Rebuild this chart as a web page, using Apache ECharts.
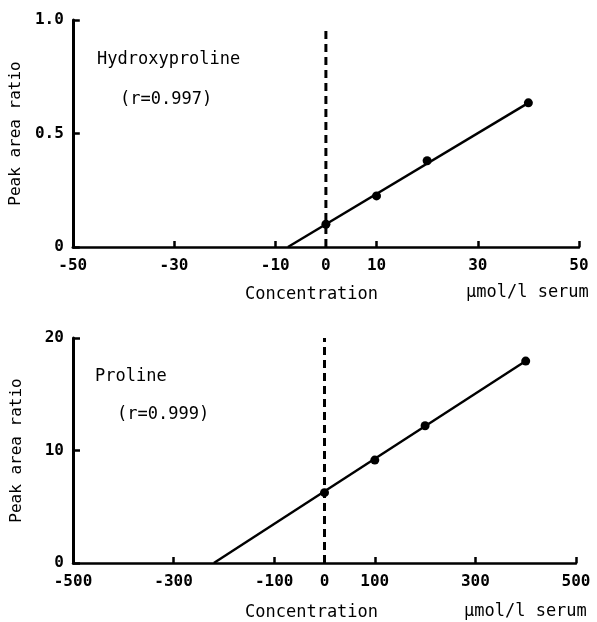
<!DOCTYPE html>
<html>
<head>
<meta charset="utf-8">
<script src="https://cdn.jsdelivr.net/npm/echarts@6/dist/echarts.min.js"></script>
<style>html,body{margin:0;padding:0;background:#fff;}#c{width:597px;height:622px;}</style>
</head>
<body>
<div id="c"></div>
<script>
// Top panel: Hydroxyproline
var hypX = [0, 10, 20, 40];
var hypY = [0.10, 0.225, 0.38, 0.635];
var hypFitX = [-7.5, 40];
var hypFitY = [0, 0.635];
var hypXLabels = [-50, -30, -10, 0, 10, 30, 50];
var hypXTicks = [-30, -10, 10, 30, 50];
var hypYTicks = [0, 0.5, 1.0];
var hypDashTop = 0.965;

// Bottom panel: Proline
var proX = [0, 100, 200, 400];
var proY = [6.25, 9.15, 12.2, 17.95];
var proFitX = [-220, 400];
var proFitY = [0, 17.95];
var proXLabels = [-500, -300, -100, 0, 100, 300, 500];
var proXTicks = [-300, -100, 100, 300, 500];
var proYTicks = [0, 10, 20];
var proDashTop = 20;

var FONT = '"DejaVu Sans Mono", "Liberation Mono", monospace';

function zip(a, b) { return a.map(function (v, i) { return [v, b[i]]; }); }

function xAxisCfg(idx, min, max, labels, ticks) {
  return {
    type: 'value', gridIndex: idx, min: min, max: max,
    splitLine: { show: false },
    axisLine: { show: true, onZero: false, lineStyle: { color: '#000', width: 2.5 } },
    axisTick: { show: true, inside: true, length: 6, customValues: ticks, lineStyle: { color: '#000', width: 2.5 } },
    axisLabel: { customValues: labels, color: '#000', fontFamily: FONT, fontSize: 16, fontWeight: 'bold', margin: 11,
      formatter: function (v) { return String(v); } }
  };
}
function yAxisCfg(idx, min, max, ticks, fmt) {
  return {
    type: 'value', gridIndex: idx, min: min, max: max,
    name: 'Peak area ratio', nameLocation: 'middle', nameRotate: 90, nameGap: 48,
    nameTextStyle: { color: '#000', fontFamily: FONT, fontSize: 16 },
    splitLine: { show: false },
    axisLine: { show: true, onZero: false, lineStyle: { color: '#000', width: 3 } },
    axisTick: { show: true, inside: true, length: 7, customValues: ticks, lineStyle: { color: '#000', width: 2.5 } },
    axisLabel: { customValues: ticks, color: '#000', fontFamily: FONT, fontSize: 16, fontWeight: 'bold', margin: 9, formatter: fmt }
  };
}

var chart = echarts.init(document.getElementById('c'), null, { renderer: 'canvas' });
var txt = function (l, t, s) {
  return { type: 'text', left: l, top: t, style: { text: s, fill: '#000', font: '17px ' + FONT } };
};
chart.setOption({
  animation: false,
  backgroundColor: '#fff',
  grid: [
    { left: 72, right: 18, top: 20, height: 227 },
    { left: 73, right: 21, top: 338, height: 225 }
  ],
  xAxis: [
    xAxisCfg(0, -50, 50, hypXLabels, hypXTicks),
    xAxisCfg(1, -500, 500, proXLabels, proXTicks)
  ],
  yAxis: [
    yAxisCfg(0, 0, 1, hypYTicks, function (v) { return v === 0 ? '0' : v.toFixed(1); }),
    yAxisCfg(1, 0, 20, proYTicks, function (v) { return String(v); })
  ],
  series: [
    { type: 'line', xAxisIndex: 0, yAxisIndex: 0, data: zip(hypFitX, hypFitY), symbol: 'none',
      lineStyle: { color: '#000', width: 2.4 } },
    { type: 'scatter', xAxisIndex: 0, yAxisIndex: 0, data: zip(hypX, hypY), symbolSize: 9,
      itemStyle: { color: '#000', opacity: 1 } },
    { type: 'line', xAxisIndex: 0, yAxisIndex: 0, data: [[0, 0], [0, hypDashTop]], symbol: 'none',
      lineStyle: { color: '#000', width: 3, type: [8, 5] } },
    { type: 'line', xAxisIndex: 1, yAxisIndex: 1, data: zip(proFitX, proFitY), symbol: 'none',
      lineStyle: { color: '#000', width: 2.4 } },
    { type: 'scatter', xAxisIndex: 1, yAxisIndex: 1, data: zip(proX, proY), symbolSize: 9,
      itemStyle: { color: '#000', opacity: 1 } },
    { type: 'line', xAxisIndex: 1, yAxisIndex: 1, data: [[0, 0], [0, proDashTop]], symbol: 'none',
      lineStyle: { color: '#000', width: 3, type: [8, 5] } }
  ],
  graphic: [
    txt(97, 51, 'Hydroxyproline'),
    txt(120, 91, '(r=0.997)'),
    txt(95, 368, 'Proline'),
    txt(117, 406, '(r=0.999)'),
    txt(245, 286, 'Concentration'),
    txt(466, 284, 'μmol/l serum'),
    txt(245, 604, 'Concentration'),
    txt(464, 603, 'μmol/l serum')
  ]
});
</script>
</body>
</html>
